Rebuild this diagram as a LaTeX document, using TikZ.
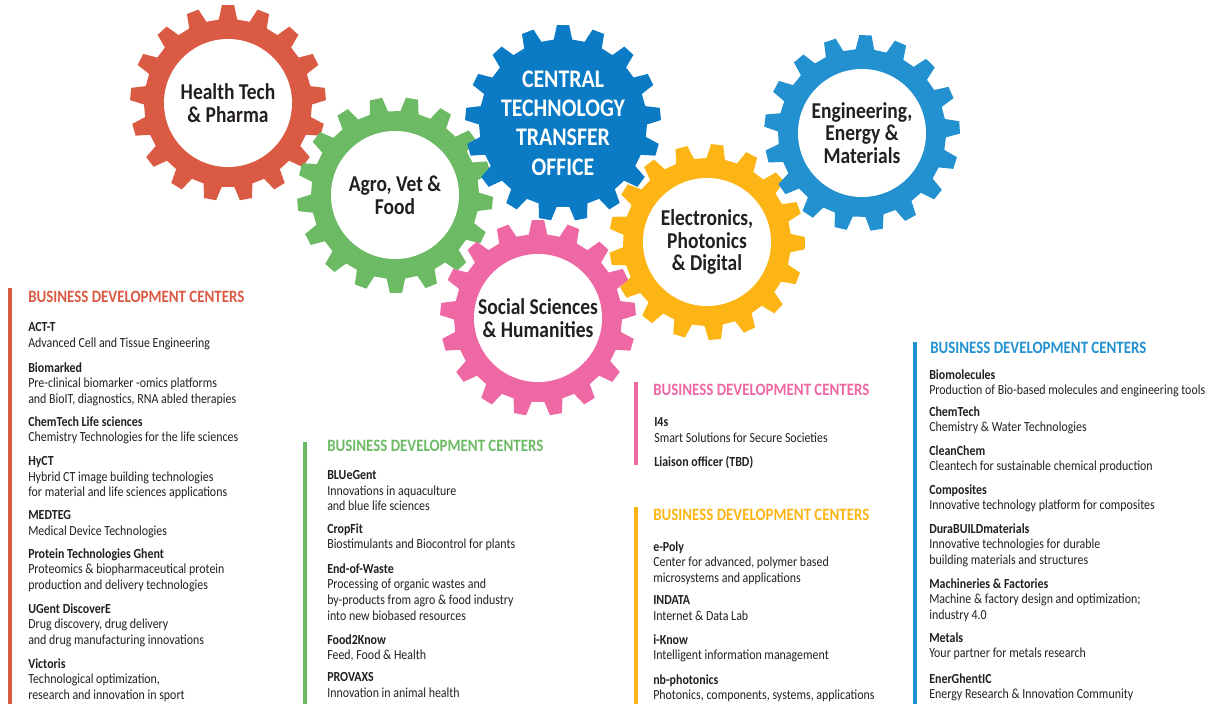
\documentclass[tikz,border=0pt]{standalone}
\usepackage{fontspec}
\setmainfont{Carlito}[FakeStretch=0.86]

\definecolor{ink}{HTML}{231F20}
\definecolor{hred}{HTML}{DA5A43}
\definecolor{agreen}{HTML}{6CBB64}
\definecolor{ctblue}{HTML}{0A7BC4}
\definecolor{eyellow}{HTML}{FDB515}
\definecolor{eblue}{HTML}{2390D0}
\definecolor{spink}{HTML}{EE68A3}

\tikzset{
  gearlabel/.style={circle, fill=white, minimum size=96pt, inner sep=0pt, align=center,
    text=ink, font=\bfseries\fontsize{17}{17}\selectfont},
  heading/.style={anchor=west, inner sep=0pt, font=\bfseries\fontsize{13}{14}\selectfont},
  entry/.style={anchor=north west, inner sep=0pt, align=left, text=ink,
    font=\fontsize{10.4}{11.8}\selectfont},
  sidebar/.style={line width=3pt},
}

\begin{document}
\begin{tikzpicture}[x=0.75pt, y=-0.75pt]
    \useasboundingbox (0,0) rectangle (1216,704);

    % gears
    \foreach \gx/\gy/\gc/\gp in {228/103/hred/-90, 395/195/agreen/-80, 563/123/ctblue/-90,
        707/242/eyellow/-84, 862/133/eblue/-88, 538/318/spink/-90}{
        \fill[\gc, shift={(\gx,\gy)}] ({\gp-6.3}:84)
            \foreach \k in {0,...,16}{
                -- ({\gp+\k*360/17-6.3}:84) -- ({\gp+\k*360/17-3.6}:98)
                -- ({\gp+\k*360/17+3.6}:98) -- ({\gp+\k*360/17+6.3}:84)
            } -- cycle;
    }

    \node[gearlabel] (health) at (228,103) {Health Tech\\\& Pharma};
    \node[gearlabel] (agro) at (395,195) {Agro, Vet \&\\Food};
    \node[gearlabel, fill=ctblue, text=white, font=\bfseries\fontsize{19}{22}\selectfont]
        (ctto) at (563,123) {CENTRAL\\TECHNOLOGY\\TRANSFER\\OFFICE};
    \node[gearlabel] (elec) at (707,242) {Electronics,\\Photonics\\\& Digital};
    \node[gearlabel] (eng) at (862,133) {Engineering,\\Energy \&\\Materials};
    \node[gearlabel] (social) at (538,318) {Social Sciences\\\& Humanities};

    % side bars
    \draw[sidebar, hred] (10,288) -- (10,704);
    \draw[sidebar, agreen] (305,442) -- (305,704);
    \draw[sidebar, spink] (636,382) -- (636,465);
    \draw[sidebar, eyellow] (636,507) -- (636,704);
    \draw[sidebar, eblue] (915,342) -- (915,704);

    % health tech & pharma
    \node[heading, hred] (hhead) at (28,297) {BUSINESS DEVELOPMENT CENTERS};
    \node[entry] (actt) at (28,322) {\textbf{ACT-T}\\Advanced Cell and Tissue Engineering};
    \node[entry] (biomarked) at (28,362) {\textbf{Biomarked}\\Pre-clinical biomarker -omics platforms\\and BioIT, diagnostics, RNA abled therapies};
    \node[entry] (chemls) at (28,416) {\textbf{ChemTech Life sciences}\\Chemistry Technologies for the life sciences};
    \node[entry] (hyct) at (28,456) {\textbf{HyCT}\\Hybrid CT image building technologies\\for material and life sciences applications};
    \node[entry] (medteg) at (28,510) {\textbf{MEDTEG}\\Medical Device Technologies};
    \node[entry] (protein) at (28,548) {\textbf{Protein Technologies Ghent}\\Proteomics \& biopharmaceutical protein\\production and delivery technologies};
    \node[entry] (discovere) at (28,603) {\textbf{UGent DiscoverE}\\Drug discovery, drug delivery\\and drug manufacturing innovations};
    \node[entry] (victoris) at (28,658) {\textbf{Victoris}\\Technological optimization,\\research and innovation in sport};

    % agro, vet & food
    \node[heading, agreen] (ahead) at (327,446) {BUSINESS DEVELOPMENT CENTERS};
    \node[entry] (bluegent) at (327,470) {\textbf{BLUeGent}\\Innovations in aquaculture\\and blue life sciences};
    \node[entry] (cropfit) at (327,523) {\textbf{CropFit}\\Biostimulants and Biocontrol for plants};
    \node[entry] (endwaste) at (327,563) {\textbf{End-of-Waste}\\Processing of organic wastes and\\by-products from agro \& food industry\\into new biobased resources};
    \node[entry] (foodknow) at (327,634) {\textbf{Food2Know}\\Feed, Food \& Health};
    \node[entry] (provaxs) at (327,672) {\textbf{PROVAXS}\\Innovation in animal health};

    % social sciences & humanities
    \node[heading, spink] (shead) at (653,390) {BUSINESS DEVELOPMENT CENTERS};
    \node[entry] (ifours) at (654,417) {\textbf{I4s}\\Smart Solutions for Secure Societies};
    \node[entry] (liaison) at (654,456) {\textbf{Liaison officer (TBD)}};

    % electronics, photonics & digital
    \node[heading, eyellow] (ehead) at (653,515) {BUSINESS DEVELOPMENT CENTERS};
    \node[entry] (epoly) at (653,541) {\textbf{e-Poly}\\Center for advanced, polymer based\\microsystems and applications};
    \node[entry] (indata) at (653,595) {\textbf{INDATA}\\Internet \& Data Lab};
    \node[entry] (iknow) at (653,634) {\textbf{i-Know}\\Intelligent information management};
    \node[entry] (nbphot) at (653,674) {\textbf{nb-photonics}\\Photonics, components, systems, applications};

    % engineering, energy & materials
    \node[heading, eblue] (ghead) at (930,348) {BUSINESS DEVELOPMENT CENTERS};
    \node[entry] (biomol) at (929,369) {\textbf{Biomolecules}\\Production of Bio-based molecules and engineering tools};
    \node[entry] (chemtech) at (929,406) {\textbf{ChemTech}\\Chemistry \& Water Technologies};
    \node[entry] (cleanchem) at (929,445) {\textbf{CleanChem}\\Cleantech for sustainable chemical production};
    \node[entry] (composites) at (929,484) {\textbf{Composites}\\Innovative technology platform for composites};
    \node[entry] (durabuild) at (929,523) {\textbf{DuraBUILDmaterials}\\Innovative technologies for durable\\building materials and structures};
    \node[entry] (machines) at (929,578) {\textbf{Machineries \& Factories}\\Machine \& factory design and optimization;\\industry 4.0};
    \node[entry] (metals) at (929,632) {\textbf{Metals}\\Your partner for metals research};
    \node[entry] (energhentic) at (929,673) {\textbf{EnerGhentIC}\\Energy Research \& Innovation Community};
\end{tikzpicture}
\end{document}
